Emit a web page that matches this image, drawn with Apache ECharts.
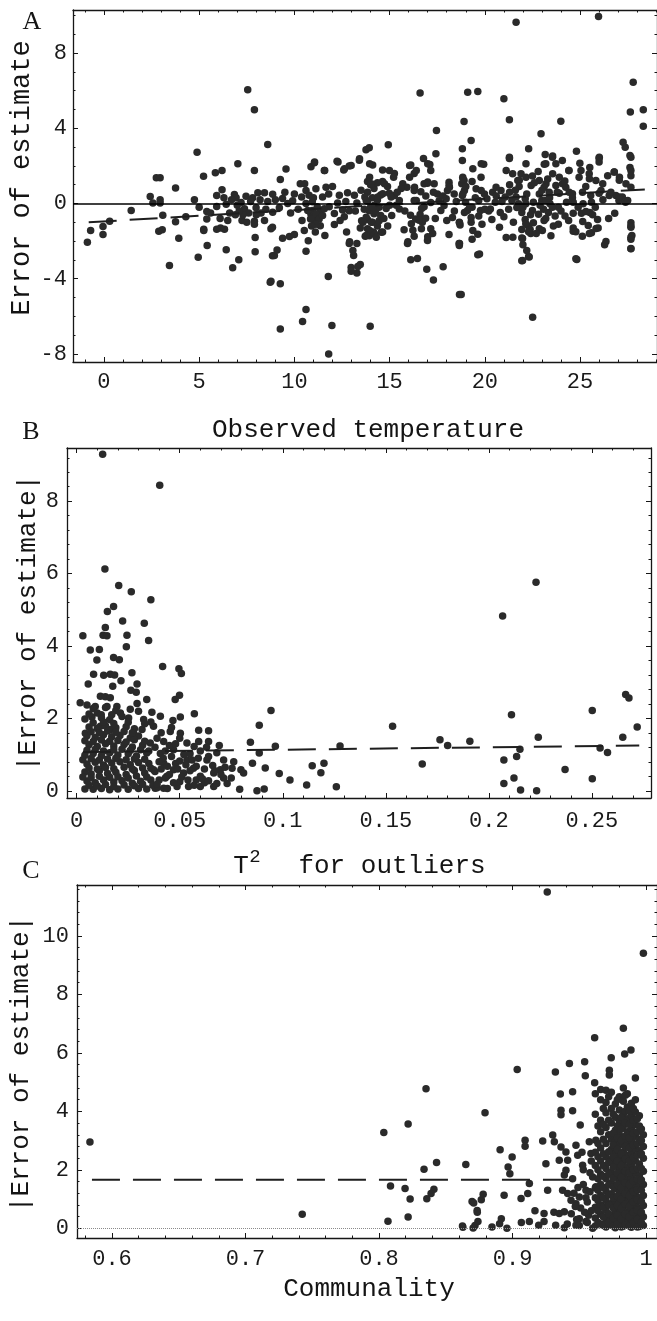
<!DOCTYPE html>
<html><head><meta charset="utf-8">
<script src="https://cdn.jsdelivr.net/npm/echarts@6/dist/echarts.min.js"></script>
<style>html,body{margin:0;padding:0;background:#fff}#c{width:657px;height:1321px}</style>
</head><body><div id="c"></div>
<script>
// ---------------- Panel A: Error of estimate vs observed temperature ----------------
const A_points = [
[-0.87,-2.06],[-0.70,-1.44],[-0.05,-1.22],[-0.05,-1.65],[0.30,-0.94],[1.43,-0.37],[2.43,0.37],[2.57,0.02],[2.75,1.37],[2.95,1.37],[2.95,0.20],[2.95,0.02],[3.09,-0.62],[2.88,-1.47],[3.06,-1.40],[3.44,-3.30],[3.76,0.83],[3.76,-0.97],[3.93,-1.85],[4.75,0.20],[4.89,2.73],[4.95,-2.86],[5.23,1.45],[5.24,-1.37],[5.24,-1.44],[5.40,-0.43],[5.40,-0.82],[5.42,-2.24],[5.85,1.63],[6.20,1.76],[5.92,0.43],[5.92,-0.16],[5.92,-1.37],[6.12,-1.31],[6.33,-1.37],[6.42,-0.04],[6.42,-2.46],[6.20,0.73],[6.60,-0.51],[6.76,-3.42],[7.03,2.11],[6.85,0.48],[6.94,0.30],[7.08,-2.99],[7.25,-0.90],[7.38,-0.28],[7.46,0.39],[7.55,6.05],[7.90,4.98],[7.90,1.76],[7.81,0.30],[7.99,-0.23],[7.90,-0.94],[7.90,-1.10],[7.94,-1.81],[7.94,-2.57],[8.08,0.57],[8.25,-0.50],[8.43,0.57],[8.43,-0.90],[8.60,3.14],[8.73,-4.19],[8.85,-2.78],[8.85,-1.27],
[6.70,0.20],[7.00,-0.10],[7.20,0.05],[7.60,-0.50],[7.70,0.10],[7.30,-0.60],[8.20,0.20],[6.50,-0.90],[7.10,-0.40],[8.00,-0.60],[8.60,0.10],[8.50,-0.30],
[8.77,-4.13],[9.26,-4.27],[9.26,-6.67],[10.61,-5.64],[10.43,-6.28],[11.80,-8.00],[11.97,-6.49],[11.78,-3.88],[13.98,-6.53],[16.60,5.87],[18.91,4.36],[17.46,3.88],[17.43,2.64],[14.93,3.12],[13.76,2.86],[13.93,2.96],[18.82,2.91],[18.82,2.29],[12.24,2.25],[10.87,1.95],[11.05,2.16],[11.57,1.76],[9.56,1.84],[9.26,1.27],[8.86,0.49],[12.59,1.78],[12.88,2.00],[13.41,2.30],[14.11,2.05],[14.63,1.78],[15.25,1.60],[15.21,1.39],[16.11,2.05],[16.29,1.60],[16.78,2.39],[17.11,2.07],[17.16,1.76],[16.99,1.08],[17.34,1.05],[18.12,1.13],[18.12,0.96],[18.39,0.51],[18.82,0.43],[18.79,1.05],[18.91,1.22],[19.09,-0.37],
[8.77,-1.35],[8.95,-2.77],[9.09,-2.47],[9.38,-1.85],[9.74,-1.76],[10.00,-1.65],[10.52,-1.44],[10.61,-2.54],[10.73,-1.98],[11.10,-1.52],[12.10,-1.12],[12.74,-1.52],[12.88,-2.13],[13.28,-2.13],[13.11,-2.77],[13.46,-3.25],[12.98,-3.40],[13.28,-3.70],[13.53,-0.92],[13.46,-1.30],[13.72,-1.74],[14.63,-1.52],[15.76,-1.40],[16.14,-1.08],[15.94,-2.13],[16.29,-1.74],[16.11,-2.99],[16.46,-2.93],[16.67,-1.35],[17.16,-1.35],[16.99,-1.97],[16.95,-3.50],[17.30,-4.07],[17.81,-3.36],[18.12,-1.65],[18.65,-2.13],[18.67,-4.84],[18.30,-0.75],[18.70,-1.15],[12.10,-0.53],[12.53,-0.34],[12.88,-0.39],[11.36,-1.18],[11.22,-0.73],[11.05,-0.92],[10.87,-0.57],[10.61,0.00],[10.38,0.35],[9.91,0.14],[9.65,0.00],[9.38,0.27],[9.21,-0.23],[8.86,-0.46],[10.31,1.05],[10.61,0.69],[11.13,0.78],[11.66,0.87],[11.48,0.35],[11.83,-0.18],[12.36,0.44],[13.15,0.44],[12.79,0.57],[13.28,0.02],[12.27,0.02],[12.62,-0.71],[14.89,0.90],[14.63,1.17],[14.98,0.55],[15.25,0.43],[15.51,0.16],[15.51,-0.29],[15.11,-0.64],[15.69,1.05],[15.91,0.87],[16.29,0.69],[16.64,0.62],[16.81,1.05],[16.29,0.16],[16.81,-0.18],[17.16,0.05],[17.60,0.14],[17.69,-0.37],[16.60,-0.59],[16.37,-0.82],[16.89,-0.78],[16.72,-1.00],[17.51,0.51],[18.04,0.69],[17.86,-0.11],
[13.84,1.17],[14.00,1.00],[14.18,0.80],[14.36,1.10],[13.84,0.60],[14.10,0.30],[14.36,0.18],[13.84,0.12],[14.18,-0.11],[14.45,-0.20],[13.93,-0.39],[14.18,-0.55],[14.53,-0.64],[13.84,-0.85],[14.10,-1.00],[14.36,-1.20],[13.84,-1.35],[14.15,-1.52],[13.93,-1.71],[14.27,-0.37],[14.45,-0.92],[14.00,-0.20],[14.53,0.45],[13.67,-0.30],[13.70,0.35],
[10.77,0.44],[10.94,0.09],[11.20,-0.18],[11.38,-0.37],[10.94,-0.37],[11.13,-0.55],[11.30,-0.82],[10.85,-0.82],[11.48,-0.64],[11.13,-1.10],[11.57,-0.28],[10.70,-0.37],
[21.64,9.64],[25.97,9.95],[27.79,6.45],[27.64,4.86],[28.32,4.98],[28.32,4.11],[19.10,5.92],[19.63,5.96],[21.00,5.57],[21.29,4.45],[23.99,4.38],[22.95,3.71],[19.28,3.35],[22.30,2.91],[21.29,2.39],[19.94,2.09],[22.16,2.11],[23.17,2.60],[23.56,2.53],[23.12,2.09],[23.73,2.11],[24.81,2.78],[24.99,2.14],[25.51,1.92],[26.00,2.41],[26.00,2.20],[26.79,1.67],[27.26,3.26],[27.37,2.99],[27.62,2.55],[27.62,1.92],[27.67,1.48],[27.07,1.39],[27.41,1.05],[27.67,0.87],[24.41,1.76],[25.48,1.58],[24.95,1.39],[25.83,1.22],[26.19,1.05],[26.45,1.48],[18.84,1.39],[19.33,1.17],[19.80,1.39],[18.93,0.69],[19.54,0.78],[19.98,0.51],[20.41,0.60],[20.85,0.69],[21.46,1.58],[21.90,1.58],[21.73,1.22],[22.16,1.39],[22.43,0.96],[22.86,1.22],[23.21,1.05],[23.56,1.58],[23.91,1.39],[23.73,0.96],[24.08,1.05],[22.86,0.51],[23.38,0.60],[23.91,0.55],[24.43,0.60],[25.13,0.60],[25.56,0.43],[26.00,0.55],[26.53,0.43],[26.88,0.43],[27.22,0.34],[27.39,0.07],[27.04,0.16],[18.99,0.07],[19.33,-0.20],[19.68,0.16],[20.11,0.25],[20.55,0.07],[21.07,0.34],[21.42,0.16],[21.77,-0.02],[22.12,0.25],[22.55,0.07],[22.99,0.16],[23.42,-0.02],[23.86,-0.20],[24.29,0.07],[24.64,0.07],[25.16,-0.02],[25.60,0.07],[18.93,-0.48],[19.28,-0.75],[18.67,-1.02],[19.68,-0.66],[19.85,-1.10],[20.37,-0.85],[20.81,-0.48],[21.25,-0.30],[21.68,-0.21],[21.94,-0.48],[22.12,-0.85],[22.29,-1.20],[21.94,-1.38],[21.94,-1.83],[22.38,-1.38],[22.55,-1.02],[22.82,-0.57],[23.08,-0.30],[23.34,-0.48],[23.69,-0.66],[23.86,-1.10],[24.21,-0.66],[24.64,-0.52],[25.07,-0.52],[25.51,-0.48],[24.64,-1.30],[24.64,-1.48],[25.12,-1.74],[25.43,-1.17],[25.60,-1.56],[25.92,-0.85],[25.95,-1.30],[23.47,-1.72],[22.86,-1.35],[21.12,-1.81],[19.63,-1.63],[19.33,-1.90],[18.67,-2.13],[19.63,-2.73],[21.94,-3.05],[22.30,-2.82],[24.83,-2.98],[26.29,-2.20],[26.82,-0.52],[27.67,-1.02],[27.67,-1.20],[27.72,-1.70],[27.67,-1.90],[27.67,-2.40],[18.76,-4.84],[22.51,-6.05],
[10.54,1.05],[11.06,2.20],[11.59,1.76],[12.29,2.20],[12.63,1.85],[12.98,2.02],[13.42,2.38],[13.95,2.11],[13.95,1.40],[14.04,1.05],[14.38,0.34],[13.77,0.16],[14.12,-0.20],[13.77,-0.73],[14.04,-1.00],[13.95,-1.44],[14.21,-1.62],[13.77,-1.70],[14.56,-1.53],[14.99,1.76],[14.73,1.05],[14.64,0.52],[15.08,0.34],[14.82,-0.27],[15.35,-0.09],[15.61,0.80],[16.05,2.02],[16.40,1.76],[16.05,1.40],[16.31,0.87],[17.00,1.14],[17.00,2.11],
[16.40,0.16],[16.68,-0.27],[16.10,-0.62],[16.55,-0.89],[16.22,-1.42],[17.00,-1.77],[17.26,-1.60],[15.96,-2.04],
[17.97,0.25],[18.14,0.87],[18.85,1.31],[19.37,1.85],[19.81,2.11],[19.81,0.69],[18.85,0.52],[19.20,-0.20],[18.66,-1.00],[19.28,-1.00],[19.37,-1.44],[18.66,-2.23],[19.72,-2.68],[20.77,-1.26],[20.59,0.87],[21.29,2.46],[21.12,1.76],[21.81,1.23],[21.64,0.34],[22.50,1.46],[22.15,-0.02],[22.50,-0.37],[22.15,-1.08],[21.98,-1.86],[22.41,-1.60],[22.33,-2.85],[21.98,-3.03],[23.20,2.11],[23.55,2.46],[23.11,0.87],[23.20,0.16],[23.55,-0.20],[23.11,-0.91],[23.02,-1.44],[24.07,2.29],[24.42,1.76],[24.25,0.87],[24.60,0.52],[25.05,1.76],[25.49,1.31],[26.01,2.46],[26.10,0.69],[25.31,-0.43],[25.66,-0.60],[25.14,-0.96],[24.78,-1.50],[25.84,-1.33],[25.49,-1.60],[26.36,-2.02],[26.80,1.67],[27.06,1.23],[27.06,0.34],[27.67,1.76],[27.67,2.46],[27.67,-1.26],[27.67,-1.80],[27.67,-2.41],[26.62,0.60],[27.50,0.16],[24.78,-2.94],[21.47,-1.80],[20.29,-0.29],[19.77,-0.37],[13.07,-2.50],[12.90,-2.03],[13.33,-3.35],[12.98,-3.61]
];
const A_points_band = [
[20.2,-0.4],[20.6,0.4],[21.0,-0.7],[21.3,0.6],[21.5,-1.0],[21.8,0.9],[22.0,-0.2],[22.2,0.5],[22.4,-0.6],[22.6,1.1],[22.7,-1.6],[22.9,-0.1],[23.0,0.7],[23.2,-0.8],[23.4,0.3],[23.6,-1.2],[23.8,0.6],[24.0,-0.4],[24.2,1.2],[24.4,-0.9],[24.6,0.3],[24.9,-0.2],[25.3,0.9],[25.8,-0.2],[26.2,0.2],[26.5,-0.8],[20.9,0.1],[21.6,0.7],[22.3,-1.5],[22.0,-2.2],[22.2,-2.5],[23.3,1.3],[22.8,1.7],[21.3,1.0],[20.0,-0.3],[19.5,0.3],[19.0,0.9],[18.5,0.1],[17.8,0.4],[17.4,-0.8],[15.8,-0.4],[15.4,0.6],[15.0,-0.1],[13.5,0.7],[13.2,-0.4],[12.7,0.1],[12.4,-0.9],[11.8,0.5],[11.0,0.3],[10.2,-0.3],[9.8,-0.5],[9.5,0.6],[9.0,0.2],[10.0,0.5],[10.4,-0.9],[10.9,-1.2],[11.6,-1.7],[14.3,-1.8],[14.7,-0.8],[14.9,-1.2],[13.6,-1.0],[12.0,0.9],[16.9,0.4],[17.3,0.6],[18.0,-0.9],[18.4,-0.4],[5.6,-0.5],[6.1,-0.8],[6.9,-0.6],[7.5,-1.0],[6.3,0.3],[4.3,-0.7],[5.0,-0.2]
];
const A_fit = [[-0.8,-1.0],[28.4,0.75]];
const A_xTicks = [0,5,10,15,20,25];
const A_yTicks = [-8,-4,0,4,8];

// ---------------- Panel B: |Error| vs T^2 ----------------
const B_points = [
[0.0126,9.30],[0.0403,8.44],[0.0137,6.13],[0.0204,5.67],[0.0265,5.50],[0.0360,5.28],[0.0179,5.09],[0.0149,4.95],[0.0223,4.69],[0.0328,4.63],[0.0139,4.51],[0.0128,4.30],[0.0147,4.28],[0.0244,4.30],[0.0030,4.28],[0.0349,4.15],[0.0241,3.98],[0.0066,3.89],[0.0110,3.90],[0.0098,3.61],[0.0179,3.68],[0.0207,3.62],[0.0417,3.43],[0.0496,3.37],[0.0508,3.24],[0.0082,3.22],[0.0131,3.19],[0.0163,3.22],[0.0184,3.20],[0.0268,3.26],[0.0056,2.95],[0.0293,2.95],[0.0175,2.89],[0.0215,3.04],[0.0263,2.78],[0.0289,2.72],[0.0340,2.52],[0.0499,2.64],[0.0478,2.52],[0.0017,2.43],[0.0050,2.37],[0.0090,2.33],[0.0115,2.61],[0.0139,2.60],[0.0163,2.57],[0.0147,2.33],[0.0195,2.33],[0.0293,2.41],[0.0571,2.13],[0.0365,2.17],[0.0406,2.06],[0.0467,1.94],[0.0503,2.04],[0.0074,2.04],[0.0119,2.10],[0.0212,2.15],[0.0252,2.01],[0.0325,1.97],[0.0373,1.78],[0.0592,1.67],[0.0640,1.66],[0.0454,1.64],[0.0503,1.59],[0.0042,1.59],[0.0115,1.78],[0.0163,1.69],[0.0276,1.59],[0.0317,1.69],[0.0592,1.36],[0.0640,1.36],[0.0692,1.25],[0.0535,1.32],[0.0422,1.36],[0.0357,1.32],[0.0843,1.34],[0.0886,1.81],[0.0943,2.22],[0.0964,1.23],[0.0886,1.04],[0.0853,0.76],[0.0915,0.63],[0.0983,0.48],[0.0791,0.04],[0.0875,0.00],[0.0910,0.05],[0.0797,0.58],[0.0810,0.49],[0.0762,0.80],[0.0754,0.62],[0.0713,0.85],[0.0697,0.58],[0.0665,0.49],[0.0713,0.35],[0.0665,0.12],[0.0600,0.12],[0.0543,0.12],[0.0487,0.12],[0.0422,0.07],[0.0381,0.07],[0.0632,0.85],[0.0567,0.62],[0.0519,0.49],[0.0470,0.58],[0.0422,0.76],[0.0373,0.58],[0.0438,0.40],[0.0600,0.40],[0.0535,0.85],[0.0470,1.13],[0.0406,1.03],
[0.1035,0.30],[0.1116,0.16],[0.1143,0.69],[0.1185,0.50],[0.1200,0.76],[0.1260,0.11],[0.1278,1.24],[0.1533,1.78],[0.1677,0.74],[0.1763,1.41],[0.1800,1.25],[0.1908,1.37],[0.2073,0.85],[0.2073,0.20],[0.2110,2.10],[0.2122,0.35],[0.2135,0.95],[0.2151,1.15],[0.2154,0.02],[0.2232,0.00],[0.2240,1.48],[0.2370,0.59],[0.2502,2.22],[0.2502,0.33],[0.2540,1.18],[0.2576,1.06],[0.2650,1.48],[0.2664,2.66],[0.2680,2.56],[0.2720,1.76],[0.2067,4.83],[0.2229,5.76]
];
const B_points_blob = [
[0.004,0.05],[0.008,0.04],[0.012,0.06],[0.016,0.03],[0.020,0.05],[0.025,0.04],[0.030,0.06],[0.034,0.05],[0.039,0.08],[0.044,0.06],
[0.005,0.27],[0.009,0.22],[0.013,0.30],[0.018,0.24],[0.022,0.28],[0.027,0.21],[0.031,0.26],[0.036,0.30],
[0.004,0.52],[0.007,0.46],[0.011,0.55],[0.015,0.48],[0.019,0.51],[0.024,0.45],[0.028,0.56],[0.033,0.49],[0.038,0.53],
[0.005,0.74],[0.009,0.79],[0.013,0.71],[0.017,0.77],[0.021,0.80],[0.026,0.72],[0.030,0.78],[0.035,0.75],
[0.004,0.98],[0.008,1.03],[0.012,0.97],[0.016,1.05],[0.020,0.99],[0.025,1.02],[0.029,0.96],[0.034,1.04],
[0.006,1.27],[0.010,1.22],[0.014,1.30],[0.018,1.24],[0.023,1.28],[0.027,1.21],[0.032,1.26],
[0.005,1.52],[0.009,1.47],[0.013,1.55],[0.017,1.49],[0.021,1.53],[0.026,1.46],[0.030,1.51],
[0.006,1.76],[0.010,1.72],[0.014,1.79],[0.019,1.74],[0.024,1.77],[0.028,1.71],
[0.004,1.98],[0.012,2.02],[0.016,1.96],[0.022,2.05],
[0.008,2.27],[0.014,2.30],[0.019,2.22],[0.026,2.25],
[0.040,0.30],[0.045,0.45],[0.050,0.25],[0.055,0.55],[0.058,0.30],[0.062,0.22],[0.066,0.70],[0.070,0.45],[0.073,0.20],[0.042,0.90],[0.048,0.75],[0.052,1.00],[0.056,0.85],[0.060,1.10],[0.064,0.95],[0.068,1.05],[0.072,0.65],[0.075,0.35],[0.038,1.20],[0.045,1.25],[0.050,1.45],[0.041,1.60],[0.046,1.75],[0.036,1.90],[0.030,2.20],[0.033,1.85],
[0.006,0.15],[0.010,0.13],[0.014,0.17],[0.018,0.12],[0.023,0.16],[0.028,0.14],[0.032,0.18],[0.037,0.15],
[0.003,0.38],[0.007,0.36],[0.011,0.40],[0.016,0.37],[0.020,0.39],[0.025,0.35],[0.029,0.41],[0.034,0.38],
[0.006,0.63],[0.010,0.60],[0.014,0.64],[0.018,0.61],[0.023,0.65],[0.027,0.60],[0.032,0.63],[0.036,0.62],
[0.003,0.86],[0.007,0.89],[0.011,0.85],[0.015,0.88],[0.019,0.90],[0.024,0.86],[0.028,0.88],[0.033,0.87],
[0.005,1.12],[0.009,1.14],[0.013,1.10],[0.018,1.13],[0.022,1.15],[0.026,1.11],[0.031,1.13],[0.035,1.10],
[0.004,1.38],[0.008,1.36],[0.012,1.40],[0.016,1.37],[0.020,1.39],[0.024,1.35],[0.028,1.41],[0.033,1.37],
[0.007,1.63],[0.011,1.60],[0.015,1.65],[0.019,1.62],[0.023,1.64],[0.027,1.60],
[0.008,1.88],[0.013,1.90],[0.018,1.86],[0.025,1.89],
[0.006,2.12],[0.010,2.15],[0.017,2.10],
[0.039,0.18],[0.043,0.35],[0.047,0.22],[0.051,0.38],[0.054,0.30],[0.057,0.15],[0.061,0.33],[0.064,0.28],[0.068,0.20],[0.041,0.60],[0.044,0.68],[0.049,0.60],[0.053,0.72],[0.058,0.68],[0.062,0.60],[0.067,0.55],[0.040,0.80],[0.046,0.95],[0.050,0.82],[0.055,1.02],[0.059,0.90],[0.063,1.20],[0.039,1.45],[0.043,1.10],[0.048,1.30],[0.057,1.22]
];
const B_fit = [[0.003,1.07],[0.273,1.25]];
const B_xTicks = [0,0.05,0.1,0.15,0.2,0.25];
const B_yTicks = [0,2,4,6,8];

// ---------------- Panel C: |Error| vs communality ----------------
const C_points = [
[0.5835,2.95],[0.7425,0.48],[0.9260,11.50],[0.9980,9.41],[0.8036,3.28],[0.8218,3.57],[0.8352,4.77],[0.8794,3.95],[0.9035,5.43],[0.8337,2.02],[0.8431,2.25],[0.8650,2.18],[0.8086,1.45],[0.8195,1.36],[0.8233,1.00],[0.8358,1.01],[0.8411,1.34],[0.8390,1.19],[0.8067,0.24],[0.8218,0.39],[0.8625,0.08],[0.8719,0.10],[0.8697,0.92],[0.8766,0.98],[0.8735,0.61],
[0.9830,6.84],[0.9615,6.52],[0.9887,6.10],[0.9840,5.96],[0.9739,5.83],[0.9920,5.14],[0.9540,5.70],[0.9545,5.22],[0.9725,5.41],[0.9725,5.24],[0.9426,5.64],[0.9321,5.35],[0.9615,4.98],[0.9358,4.59],[0.9450,4.67],[0.9363,4.04],[0.9363,3.88],[0.9450,4.02],[0.9507,3.53],[0.9094,3.01],[0.9094,2.81],[0.8907,2.69],[0.8997,2.44],[0.9226,2.99],[0.9301,3.19],[0.9313,2.96],[0.9363,2.78],[0.9400,2.61],[0.9350,2.33],[0.9413,2.33],[0.9475,2.84],[0.9488,2.50],[0.9525,2.16],[0.9575,2.96],[0.9624,3.01],[0.9587,2.56],[0.9250,2.21],[0.8967,2.10],[0.8980,1.87],[0.9400,1.99],[0.9388,1.82],[0.9375,1.30],[0.9413,1.19],[0.9438,0.96],[0.9475,0.84],[0.9500,1.07],[0.9550,1.30],[0.9624,1.42],[0.9600,1.76],[0.9126,1.53],[0.9114,1.19],[0.9064,1.02],[0.8937,1.13],[0.9263,1.30],[0.8780,1.17],[0.8709,0.87],[0.8736,0.55],[0.9168,0.60],[0.9236,0.51],[0.9310,0.55],[0.9350,0.51],[0.9388,0.57],[0.9066,0.20],[0.9126,0.23],[0.9196,0.11],[0.9236,0.23],[0.9323,0.11],[0.9388,0.02],[0.8628,0.04],[0.8705,0.01],[0.8741,0.23],[0.8846,0.05],[0.8916,0.33],[0.8958,0.00],[0.8903,0.16],[0.9475,0.11],[0.9500,0.33],[0.9550,0.23],[0.9600,0.00]
];
const C_points_column = [
[0.962,0.08],[0.962,0.35],[0.962,0.72],[0.962,1.05],[0.962,1.38],[0.962,2.15],[0.962,2.60],[0.962,3.90],[0.962,4.60],
[0.966,0.15],[0.966,0.48],[0.966,0.80],[0.966,1.12],[0.966,1.50],[0.966,1.85],[0.966,2.30],[0.966,2.75],[0.966,3.30],[0.966,3.70],[0.966,4.40],[0.966,4.75],
[0.970,0.05],[0.970,0.30],[0.970,0.62],[0.970,0.95],[0.970,1.28],[0.970,1.70],[0.970,2.05],[0.970,2.45],[0.970,2.90],[0.970,3.45],[0.970,3.95],[0.970,4.30],[0.970,4.72],
[0.974,0.12],[0.974,0.42],[0.974,0.85],[0.974,1.18],[0.974,1.55],[0.974,1.92],[0.974,2.35],[0.974,2.70],[0.974,3.05],[0.974,3.60],[0.974,4.10],[0.974,4.65],
[0.977,0.02],[0.977,0.26],[0.977,0.58],[0.977,0.98],[0.977,1.35],[0.977,1.78],[0.977,2.20],[0.977,2.55],[0.977,2.98],[0.977,3.35],[0.977,3.80],[0.977,4.25],
[0.980,0.18],[0.980,0.50],[0.980,0.88],[0.980,1.22],[0.980,1.60],[0.980,2.00],[0.980,2.40],[0.980,2.85],[0.980,3.20],[0.980,3.65],[0.980,4.05],[0.980,4.50],
[0.983,0.07],[0.983,0.38],[0.983,0.75],[0.983,1.08],[0.983,1.45],[0.983,1.82],[0.983,2.28],[0.983,2.62],[0.983,3.00],[0.983,3.50],[0.983,3.92],[0.983,4.35],[0.983,4.80],
[0.986,0.22],[0.986,0.55],[0.986,0.92],[0.986,1.30],[0.986,1.68],[0.986,2.10],[0.986,2.50],[0.986,2.95],[0.986,3.30],[0.986,3.75],[0.986,4.15],[0.986,4.60],
[0.989,0.04],[0.989,0.33],[0.989,0.68],[0.989,1.02],[0.989,1.40],[0.989,1.75],[0.989,2.18],[0.989,2.58],[0.989,3.00],[0.989,3.42],[0.989,3.85],[0.989,4.28],
[0.992,0.14],[0.992,0.45],[0.992,0.82],[0.992,1.15],[0.992,1.52],[0.992,1.90],[0.992,2.30],[0.992,2.72],[0.992,3.15],[0.992,3.55],[0.992,3.98],[0.992,4.40],
[0.995,0.06],[0.995,0.36],[0.995,0.70],[0.995,1.05],[0.995,1.42],[0.995,1.80],[0.995,2.20],[0.995,2.65],[0.995,3.05],[0.995,3.50],[0.995,3.85],
[0.998,0.10],[0.998,0.40],[0.998,0.78],[0.998,1.12],[0.998,1.50],[0.998,1.95],[0.998,2.40],[0.998,2.80],[0.998,3.20],
[0.948,0.30],[0.951,0.70],[0.955,1.05],[0.957,0.45],[0.953,1.50],[0.958,1.90],[0.946,1.20],[0.950,0.10],[0.956,0.20],[0.959,2.30],[0.952,2.60],
[0.964,0.20],[0.964,0.60],[0.964,0.95],[0.964,1.30],[0.964,1.70],[0.964,2.00],[0.964,2.45],[0.964,2.90],[0.964,3.50],
[0.968,0.10],[0.968,0.40],[0.968,0.72],[0.968,1.05],[0.968,1.40],[0.968,1.78],[0.968,2.15],[0.968,2.55],[0.968,3.05],[0.968,3.55],[0.968,4.10],
[0.972,0.20],[0.972,0.50],[0.972,0.80],[0.972,1.15],[0.972,1.48],[0.972,1.85],[0.972,2.25],[0.972,2.62],[0.972,3.20],[0.972,3.70],[0.972,4.50],
[0.9755,0.08],[0.9755,0.35],[0.9755,0.70],[0.9755,1.05],[0.9755,1.42],[0.9755,1.72],[0.9755,2.10],[0.9755,2.45],[0.9755,2.85],[0.9755,3.25],[0.9755,3.90],
[0.9785,0.15],[0.9785,0.45],[0.9785,0.78],[0.9785,1.10],[0.9785,1.50],[0.9785,1.88],[0.9785,2.30],[0.9785,2.70],[0.9785,3.10],[0.9785,3.50],[0.9785,4.40],
[0.9815,0.05],[0.9815,0.32],[0.9815,0.68],[0.9815,1.00],[0.9815,1.38],[0.9815,1.75],[0.9815,2.15],[0.9815,2.55],[0.9815,3.00],[0.9815,3.40],[0.9815,3.80],
[0.9845,0.12],[0.9845,0.48],[0.9845,0.82],[0.9845,1.18],[0.9845,1.55],[0.9845,1.95],[0.9845,2.38],[0.9845,2.80],[0.9845,3.15],[0.9845,3.60],[0.9845,4.00],[0.9845,4.55],
[0.9875,0.08],[0.9875,0.40],[0.9875,0.75],[0.9875,1.12],[0.9875,1.50],[0.9875,1.90],[0.9875,2.30],[0.9875,2.75],[0.9875,3.10],[0.9875,3.55],[0.9875,4.00],
[0.9905,0.20],[0.9905,0.55],[0.9905,0.90],[0.9905,1.25],[0.9905,1.62],[0.9905,2.00],[0.9905,2.42],[0.9905,2.85],[0.9905,3.25],[0.9905,3.70],[0.9905,4.10],
[0.9935,0.05],[0.9935,0.30],[0.9935,0.62],[0.9935,0.98],[0.9935,1.32],[0.9935,1.68],[0.9935,2.05],[0.9935,2.50],[0.9935,2.90],[0.9935,3.30],[0.9935,3.75],
[0.9965,0.20],[0.9965,0.55],[0.9965,0.92],[0.9965,1.30],[0.9965,1.65],[0.9965,2.05],[0.9965,2.55],[0.9965,3.00],[0.9965,3.40],
[0.941,0.15],[0.944,0.50],[0.947,0.75],[0.949,1.40],[0.954,0.55],[0.956,0.90],[0.958,1.25],[0.959,0.60],[0.945,1.70],[0.953,2.00]
];
const C_fit = [[0.585,1.66],[0.943,1.66]];
const C_xTicks = [0.6,0.7,0.8,0.9,1];
const C_yTicks = [0,2,4,6,8,10];

// ---------------- layout / styling ----------------
function steps(a,b,s){const r=[];const n=Math.round((b-a)/s);for(let i=0;i<=n;i++)r.push(+(a+i*s).toFixed(6));return r;}
const MONO = "'Liberation Mono','DejaVu Sans Mono',monospace";
const SERIF = "'Liberation Serif','DejaVu Serif',serif";
const INK = '#161616';

const panels = [
 {grid:{left:73,top:10,width:585,height:352}, x:[-1.625,29.04], y:[-8.43,10.29], xt:A_xTicks, yt:A_yTicks, xm:steps(-1,29,1), ym:steps(-8,10,1), xMargin:9, yMargin:6, pts:A_points.concat(A_points_band), fit:A_fit, ref:{type:'solid',color:'#000',width:1.5}},
 {grid:{left:67,top:448,width:584,height:350}, x:[-0.0047,0.2787], y:[-0.2,9.47], xt:B_xTicks, yt:B_yTicks, xm:steps(0,0.27,0.01), ym:steps(0,9.2,0.4), xMargin:12, yMargin:8, pts:B_points.concat(B_points_blob), fit:B_fit, ref:null},
 {grid:{left:77,top:885,width:581,height:353}, x:[0.5738,1.0082], y:[-0.33,11.74], xt:C_xTicks, yt:C_yTicks, xm:steps(0.58,1.0,0.02), ym:steps(0,11.6,0.4), xMargin:10, yMargin:8, pts:C_points.concat(C_points_column), fit:C_fit, ref:{type:'dotted',color:'#8a8a8a',width:1}}
];

const grid=[], xAxis=[], yAxis=[], series=[];
panels.forEach((p,gi)=>{
  grid.push(p.grid);
  const line = {show:true,onZero:false,lineStyle:{color:INK,width:1.3}};
  const noLine = {show:false,onZero:false};
  const lab = (vals,m)=>({show:true,customValues:vals,margin:m,fontFamily:MONO,fontSize:22,color:'#1a1a1a',showMinLabel:true,showMaxLabel:true});
  const tk = (vals,len)=>({show:true,inside:true,length:len,customValues:vals,lineStyle:{color:INK,width:1}});
  const mk = (pos,isX,main,vals,len,label,m)=>{
    const ax = {type:'value',gridIndex:gi,position:pos,min:isX?p.x[0]:p.y[0],max:isX?p.x[1]:p.y[1],
      splitLine:{show:false},axisLine:main?line:noLine,axisTick:tk(vals,len),
      axisLabel:label?lab(vals,m):{show:false}};
    (isX?xAxis:yAxis).push(ax);
  };
  const xi = xAxis.length, yi = yAxis.length;
  mk('bottom',true,true,p.xt,5,true,p.xMargin);
  mk('bottom',true,false,p.xm,2.5,false);
  mk('top',true,true,p.xt,5,false);
  mk('top',true,false,p.xm,2.5,false);
  mk('left',false,true,p.yt,5,true,p.yMargin);
  mk('left',false,false,p.ym,2.5,false);
  mk('right',false,true,p.yt,5,false);
  mk('right',false,false,p.ym,2.5,false);
  series.push({type:'scatter',xAxisIndex:xi,yAxisIndex:yi,data:p.pts,symbol:'circle',symbolSize:7.5,
    itemStyle:{color:'#2a2a2a',opacity:1},z:2,silent:true});
  const fitSeries = {type:'line',xAxisIndex:xi,yAxisIndex:yi,data:p.fit,symbol:'none',showSymbol:false,
    lineStyle:{type:[28,13],width:2,color:'#1e1e1e'},z:4,silent:true};
  if(p.ref){
    fitSeries.markLine = {silent:true,symbol:'none',label:{show:false},animation:false,
      lineStyle:Object.assign({},p.ref),data:[{yAxis:0}]};
  }
  series.push(fitSeries);
});

const txt = (t,x,y,size,font,rot)=>({type:'text',x:x,y:y,rotation:rot||0,silent:true,z:10,
  style:{text:t,fontSize:size,fontFamily:font,fill:'#141414',textAlign:'center',textVerticalAlign:'middle',align:'center',verticalAlign:'middle'}});

const graphic = [
  txt('A',32,22,26,SERIF),
  txt('B',31,432,26,SERIF),
  txt('C',31,871,26,SERIF),
  txt('Observed temperature',368,430,26,MONO),
  txt('Error of estimate',22,178,27,MONO,Math.PI/2),
  txt('T',241,866,26,MONO),
  txt('2',255,857,19,MONO),
  txt('for outliers',392,866,26,MONO),
  txt('|Error of estimate|',28,623,26,MONO,Math.PI/2),
  txt('Communality',369,1289,26,MONO),
  txt('|Error of estimate|',21,1064,26,MONO,Math.PI/2)
];

const chart = echarts.init(document.getElementById('c'),null,{renderer:'canvas'});
chart.setOption({animation:false,backgroundColor:'#ffffff',grid,xAxis,yAxis,series,graphic});
</script></body></html>
